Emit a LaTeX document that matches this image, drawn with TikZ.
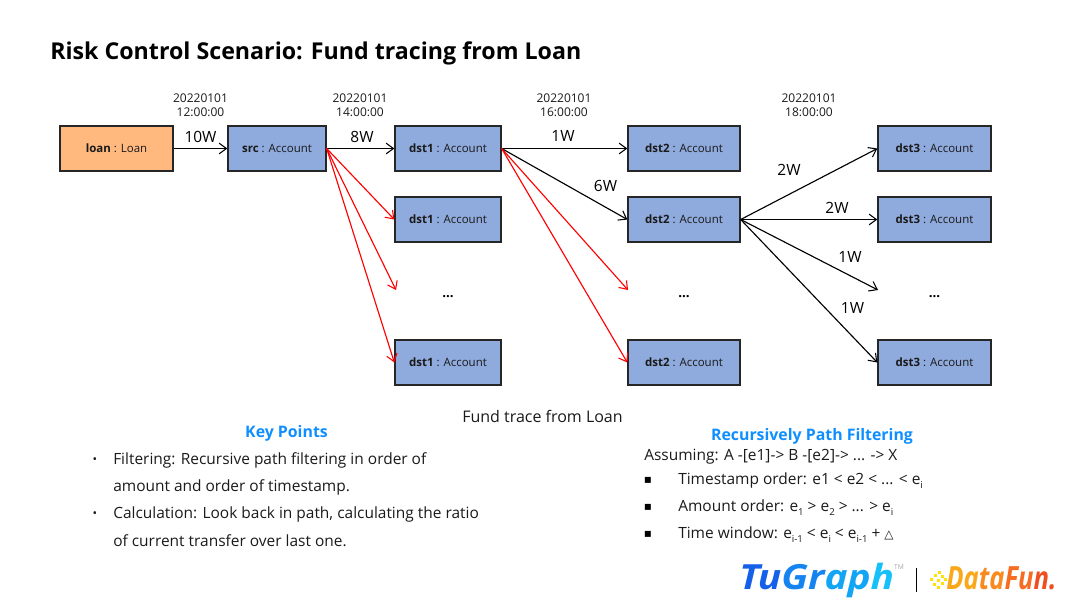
\documentclass[tikz,border=0pt]{standalone}
\usepackage{fontspec}
\setmainfont{Open Sans}
\newfontfamily\dejavu{DejaVu Sans}
\usetikzlibrary{arrows.meta}
\definecolor{boxblue}{HTML}{8FAADC}
\definecolor{boxorange}{HTML}{FFB97F}
\definecolor{keyblue}{HTML}{0F8FFF}
\definecolor{txt}{HTML}{1A1A1A}
\newcommand{\fsz}[1]{\fontsize{#1}{#1}\selectfont}
\newcommand{\subs}[1]{\raisebox{-0.25em}{\fontsize{7.2}{7.2}\selectfont #1}}
\tikzset{
  x=0.75pt,y=-0.75pt,
  vbox/.style={draw=black!85,line width=1pt,minimum height=33.75pt,inner sep=0pt,font=\fsz{8.6},text=txt},
  acct/.style={vbox,fill=boxblue},
  loanbox/.style={vbox,fill=boxorange},
  conn/.style={-{Straight Barb[length=5.5pt,width=8pt,line width=0.8pt]},line width=0.85pt,shorten >=0pt,shorten <=0pt},
  blk/.style={conn,draw=black},
  rd/.style={conn,draw=red},
  stamp/.style={font=\fsz{9},text=txt,align=center,inner sep=0pt},
  amt/.style={font=\fsz{11.6},text=black,inner sep=0pt},
  dotsl/.style={font=\bfseries\fsz{10},inner sep=0pt},
  head/.style={font=\bfseries\fsz{11.9},text=keyblue,inner sep=0pt},
  body/.style={font=\fsz{11.6},text=txt,anchor=west,inner sep=0pt},
  bull/.style={font=\fsz{9},text=txt,inner sep=0pt},
  sq/.style={font=\dejavu\fsz{9},text=black,inner sep=0pt},
}
\begin{document}
\begin{tikzpicture}
\useasboundingbox (0,0) rectangle (1080,608);
\node[font=\bfseries\fsz{17.4},anchor=west,inner sep=0pt,text=black] (title) at (50,53) {Risk Control Scenario: Fund tracing from Loan};

\node[stamp] (t1) at (200.5,105) {20220101\\[1.5pt]12:00:00};
\node[stamp] (t2) at (360,105) {20220101\\[1.5pt]14:00:00};
\node[stamp] (t3) at (564,105) {20220101\\[1.5pt]16:00:00};
\node[stamp] (t4) at (809,105) {20220101\\[1.5pt]18:00:00};

\node[loanbox,minimum width=84.75pt] (loan) at (116.5,148.5) {\textbf{loan} : Loan};
\node[acct,minimum width=73.5pt] (src) at (277,148.5) {\textbf{src} : Account};
\node[acct,minimum width=79.5pt] (a1) at (448,148.5) {\textbf{dst1} : Account};
\node[acct,minimum width=79.5pt] (a2) at (448,219.5) {\textbf{dst1} : Account};
\node[acct,minimum width=79.5pt] (a4) at (448,362.5) {\textbf{dst1} : Account};
\node[acct,minimum width=84pt] (b1) at (684,148.5) {\textbf{dst2} : Account};
\node[acct,minimum width=84pt] (b2) at (684,219.5) {\textbf{dst2} : Account};
\node[acct,minimum width=84pt] (b4) at (684,362.5) {\textbf{dst2} : Account};
\node[acct,minimum width=84.75pt] (c1) at (934.5,148.5) {\textbf{dst3} : Account};
\node[acct,minimum width=84.75pt] (c2) at (934.5,219.5) {\textbf{dst3} : Account};
\node[acct,minimum width=84.75pt] (c4) at (934.5,362.5) {\textbf{dst3} : Account};

\node[dotsl] (d1) at (448,296.5) {...};
\node[dotsl] (d2) at (684,296.5) {...};
\node[dotsl] (d3) at (934.5,296.5) {...};

\coordinate (e1) at (396,290);
\coordinate (e2) at (628,290);
\coordinate (e3) at (878,290);

\draw[blk] (loan.east) -- (src.west);
\draw[blk] (src.east) -- (a1.west);
\draw[rd] (src.east) -- (a2.west);
\draw[rd] (src.east) -- (e1);
\draw[rd] (src.east) -- (a4.west);
\draw[blk] (a1.east) -- (b1.west);
\draw[blk] (a1.east) -- (b2.west);
\draw[rd] (a1.east) -- (e2);
\draw[rd] (a1.east) -- (b4.west);
\draw[blk] (b2.east) -- (c1.west);
\draw[blk] (b2.east) -- (c2.west);
\draw[blk] (b2.east) -- (e3);
\draw[blk] (b2.east) -- (c4.west);

\node[amt] (w1) at (200.5,137) {10W};
\node[amt] (w2) at (362,137) {8W};
\node[amt] (w3) at (563,135.5) {1W};
\node[amt] (w4) at (605.5,186) {6W};
\node[amt] (w5) at (789,170) {2W};
\node[amt] (w6) at (837,207.5) {2W};
\node[amt] (w7) at (850,257) {1W};
\node[amt] (w8) at (852.5,307.5) {1W};

\node[font=\fsz{12},text=txt,inner sep=0pt] (cap) at (542.5,416) {Fund trace from Loan};

\node[head] (kp) at (286.5,433) {Key Points};
\node[bull] (k1) at (95,461) {•};
\node[body] (k1a) at (113,460.5) {Filtering: Recursive path filtering in order of};
\node[body] (k1b) at (113,487) {amount and order of timestamp.};
\node[bull] (k2) at (95,515) {•};
\node[body] (k2a) at (113,514.5) {Calculation: Look back in path, calculating the ratio};
\node[body] (k2b) at (113,540.5) {of current transfer over last one.};

\node[head] (rp) at (812,436) {Recursively Path Filtering};
\node[body] (ra) at (644,457) {Assuming: A -[e1]-> B -[e2]-> ... -> X};
\node[sq] (r1) at (648,480) {▪};
\node[body] (r1a) at (678,481) {Timestamp order: e1 < e2 < ... < e\subs{i}};
\node[sq] (r2) at (648,507) {▪};
\node[body] (r2a) at (678,508) {Amount order: e\subs{1} > e\subs{2} > ... > e\subs{i}};
\node[sq] (r3) at (648,534) {▪};
\node[body] (r3a) at (678,535) {Time window: e\subs{i-1} < e\subs{i} < e\subs{i-1} + {\dejavu\fsz{9}△}};

% logos
\node[font=\bfseries\itshape\fsz{26},inner sep=0pt,anchor=west] (tg) at (739,580) {\scalebox{1.12}[1]{\textcolor[HTML]{1560E8}{Tu}\textcolor[HTML]{1583F0}{Gr}\textcolor[HTML]{12A5F5}{ap}\textcolor[HTML]{18C0FA}{h}}};
\node[font=\fsz{5},text=black!35,inner sep=0pt] (tm) at (899,567) {TM};
\draw[black,line width=1.2pt] (916.5,568) -- (916.5,592);
\foreach \p in {(931,579),(935,575),(939,572),(934,584),(938,580),(942,576),(938,587),(942,583),(945,579)}
  \fill[yellow!85!orange] \p ++(-1.5,-1.5) rectangle ++(3,3);
\node[font=\bfseries\itshape\fsz{24},inner sep=0pt,anchor=west] (df) at (946,578) {\scalebox{0.8}[1]{\textcolor[HTML]{F9A81A}{Da}\textcolor[HTML]{F88A1E}{ta}\textcolor[HTML]{F66C20}{Fu}\textcolor[HTML]{F04E1E}{n.}}};
\end{tikzpicture}
\end{document}
